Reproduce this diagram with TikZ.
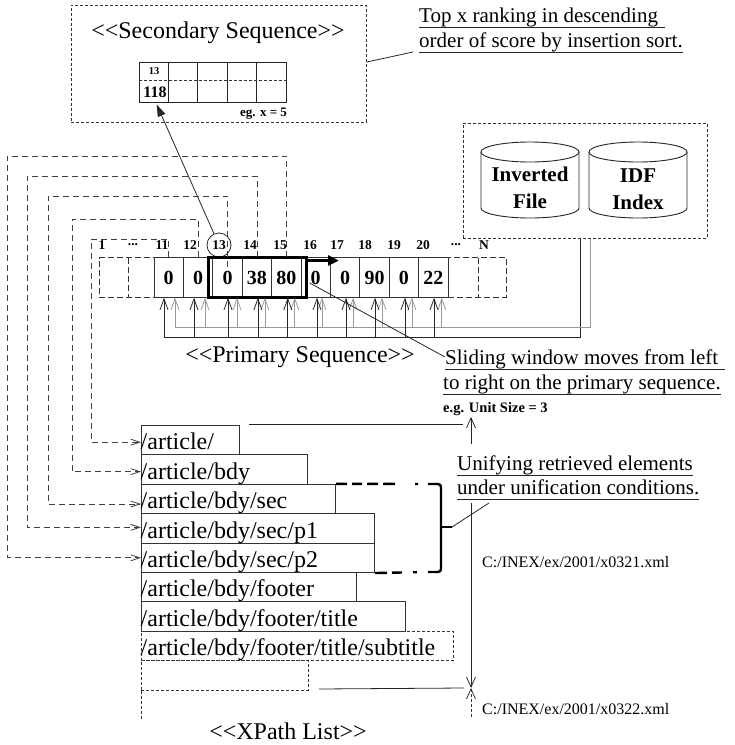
\documentclass[tikz,border=0pt]{standalone}
\usepackage{fontspec}
\setmainfont{Liberation Serif}
\newfontfamily\titlefont{Liberation Serif}
\usetikzlibrary{arrows.meta,calc}
\newcommand\fsz[2]{\fontsize{#1}{#2}\selectfont}
\begin{document}
\begin{tikzpicture}[x=1pt,y=-1pt,
  ink/.style={draw=black!85, line width=0.9pt},
  finedash/.style={draw=black!80, line width=0.9pt, dash pattern=on 3pt off 2pt},
  seqdash/.style={draw=black!80, line width=0.9pt, dash pattern=on 6pt off 3pt},
  cellbox/.style={draw=black!80, line width=0.9pt, minimum width=29.4pt, minimum height=39.5pt, inner sep=0pt, font=\bfseries\fsz{20}{24}},
  topcell/.style={draw=black!85, line width=1pt, minimum width=29.4pt, minimum height=40pt, inner sep=0pt},
  idx/.style={font=\bfseries\fsz{13.5}{15}, inner sep=0pt},
  ptitle/.style={font=\titlefont\fsz{24}{28}, inner sep=0pt},
  note/.style={font=\fsz{21}{24}, inner sep=0pt, anchor=base west},
  small/.style={font=\bfseries\fsz{14.5}{16}, inner sep=0pt, anchor=base west},
  pathtxt/.style={font=\fsz{16}{18}, inner sep=0pt, anchor=base west},
  xbox/.style={draw=black!80, line width=1pt, minimum height=29.4pt, inner sep=0pt, anchor=north west},
  xtxt/.style={font=\fsz{24}{28}, inner sep=0pt, anchor=base west},
  uline/.style={draw=black!85, line width=1pt},
  link/.style={draw=black!75, line width=0.8pt, dash pattern=on 6pt off 4pt, -{Straight Barb[length=9pt,width=6pt]}},
  feedd/.style={draw=black!85, line width=0.8pt, -{Straight Barb[length=11pt,width=8pt]}},
  feedg/.style={draw=black!40, line width=0.8pt, -{Straight Barb[length=11pt,width=8pt]}},
  busd/.style={draw=black!85, line width=0.9pt},
  busg/.style={draw=black!40, line width=0.9pt},
  brace/.style={draw=black, line width=2.4pt},
  db/.style={font=\bfseries\fsz{21}{27}, align=center, inner sep=0pt}
]
\useasboundingbox (0,0) rectangle (735,745);

% ---------------- secondary sequence ----------------
\node[finedash, minimum width=295pt, minimum height=117pt, anchor=north west] (secbox) at (71,5) {};
\node[ptitle] (sectitle) at (218,33) {<<Secondary Sequence>>};
\foreach \k in {1,...,5}
  \node[topcell] (s\k) at ({139+14.7+29.4*(\k-1)},82) {};
\draw[finedash] ($(s1.west)+(0,-2)$) -- ($(s5.east)+(0,-2)$);
\node[idx, font=\bfseries\fsz{10.5}{12}] (s1top) at (154,71) {13};
\node[idx, font=\bfseries\fsz{16}{18}] (s1val) at (155,92) {118};
\node[small, font=\bfseries\fsz{13}{15}] (egx) at (240,116) {eg. x = 5};

% ranking note
\node[note] (n1) at (419,22) {Top x ranking in descending};
\node[note] (n2) at (419,47) {order of score by insertion sort.};
\draw[uline] ($(n1.base west)+(0,5.5)$) -- ($(n1.base east)+(7,5.5)$);
\draw[uline] ($(n2.base west)+(0,5.5)$) -- ($(n2.base east)+(0,5.5)$);
\draw[ink, line width=0.8pt] ($(secbox.north east)+(0,57)$) -- ($(n2.base west)+(-6,5)$);

% ---------------- index files ----------------
\node[finedash, minimum width=244pt, minimum height=115pt, anchor=north west] (dbbox) at (463,123) {};
\draw[ink] (481,152) -- (481,208) arc[start angle=180,end angle=360,x radius=49pt,y radius=10pt] -- (579,152);
\draw[ink] (530,152) ellipse [x radius=49pt, y radius=10pt];
\draw[ink] (589,152) -- (589,208) arc[start angle=180,end angle=360,x radius=49pt,y radius=10pt] -- (687,152);
\draw[ink] (638,152) ellipse [x radius=49pt, y radius=10pt];
\node[db] (inv) at (530,188) {Inverted\\File};
\node[db] (idf) at (638,189) {IDF\\Index};

% ---------------- primary sequence ----------------
\node[seqdash, minimum width=55pt, minimum height=39.5pt, inner sep=0pt, anchor=west] (lft) at (99,277.5) {};
\draw[seqdash] (128,258) -- (128,297);
\node[seqdash, minimum width=58pt, minimum height=39.5pt, inner sep=0pt, anchor=west] (rgt) at (448,277.5) {};
\draw[seqdash] (478,258) -- (478,297);
\foreach \i/\v in {11/0,12/0,13/0,14/38,15/80,16/0,17/0,18/90,19/0,20/22}
  \node[cellbox] (c\i) at ({154+29.4*(\i-11)+14.7},277.5) {\v};

\node[idx] (l1) at (102,245) {1};
\node[idx] (ld1) at (133,245) {...};
\foreach \i/\x in {11/162,12/190,14/250,15/280,16/310,17/337,18/365,19/394,20/423}
  \node[idx] (l\i) at (\x,245) {\i};
\node[idx, draw=black!85, line width=0.8pt, circle, inner sep=0pt, minimum size=24pt] (l13) at (219,245) {13};
\node[idx] (ld2) at (456,245) {...};
\node[idx] (lN) at (484,245) {N};

% sliding window
\node[draw=black, line width=3pt, minimum width=98pt, minimum height=40pt, inner sep=0pt] (win) at (257.5,277.5) {};
\draw[line width=3pt, -{Triangle[length=11pt,width=10pt]}] ($(win.north east)+(0,4.5)$) -- ($(win.north east)+(31,4.5)$);

% best element goes to the secondary sequence
\draw[ink, line width=0.8pt, -{Triangle[length=12pt,width=8pt]}] (l13) -- ($(s1.south)+(3,2)$);

% nested links from the XPath list into the cells
\coordinate (k1) at (91,239);
\coordinate (k2) at (72,219);
\coordinate (k3) at (48,196);
\coordinate (k4) at (27,176);
\coordinate (k5) at (7,156);

% ---------------- XPath list ----------------
\node[xbox, minimum width=98pt] (xp1) at (141,425) {};
\node[xbox, minimum width=166pt] (xp2) at (141,454.4) {};
\node[xbox, minimum width=194pt] (xp3) at (141,483.8) {};
\node[xbox, minimum width=233pt] (xp4) at (141,513.2) {};
\node[xbox, minimum width=233pt] (xp5) at (141,542.6) {};
\node[xbox, minimum width=215pt] (xp6) at (141,572) {};
\node[xbox, minimum width=264pt] (xp7) at (141,601.4) {};
\node[xbox, finedash, minimum width=312pt] (xp8) at (141,630.8) {};
\node[xbox, finedash, minimum width=167pt] (xp9) at (141,660.2) {};
\draw[finedash] (xp9.south west) -- ++(0,28);

\node[xtxt] (t1) at ($(xp1.south west)+(-0.5,-5.5)$) {/article/};
\node[xtxt] (t2) at ($(xp2.south west)+(-0.5,-5.5)$) {/article/bdy};
\node[xtxt] (t3) at ($(xp3.south west)+(-0.5,-5.5)$) {/article/bdy/sec};
\node[xtxt] (t4) at ($(xp4.south west)+(-0.5,-5.5)$) {/article/bdy/sec/p1};
\node[xtxt] (t5) at ($(xp5.south west)+(-0.5,-5.5)$) {/article/bdy/sec/p2};
\node[xtxt] (t6) at ($(xp6.south west)+(-0.5,-5.5)$) {/article/bdy/footer};
\node[xtxt] (t7) at ($(xp7.south west)+(-0.5,-5.5)$) {/article/bdy/footer/title};
\node[xtxt] (t8) at ($(xp8.south west)+(-0.5,-5.5)$) {/article/bdy/footer/title/subtitle};

\draw[link] (c11.north) |- (k1) |- ($(xp1.west)+(0,2)$);
\draw[link] (c12.north) |- (k2) |- ($(xp2.west)+(0,2)$);
\draw[link] ($(c13.north)+(0,10)$) |- (k3) |- ($(xp3.west)+(0,5)$);
\draw[link] (c14.north) |- (k4) |- ($(xp4.west)+(0,-1)$);
\draw[link] (c15.north) |- (k5) |- (xp5.west);

% score feeds from the index files
\draw[busd] ($(dbbox.south west)+(117,0)$) |- ($(c11.south)+(-4.7,40)$);
\draw[busg] ($(dbbox.south west)+(127,0)$) |- ($(c11.south)+(6.3,30)$);
\foreach \i/\d/\g in {11/-4.7/6.3,12/-4.1/6.9,13/0.5/9.5,14/1/8,15/1.5/8.5,16/1.3/6.3,17/0.9/8,18/0.5/7.5,19/1/8,20/0.7/8.5}{
  \draw[feedg] ($(c\i.south)+(\g,30)$) -- ($(c\i.south)+(\g,0)$);
  \draw[feedd] ($(c\i.south)+(\d,40)$) -- ($(c\i.south)+(\d,0)$);
}

\node[ptitle] (primtitle) at (300,357) {<<Primary Sequence>>};

% sliding note
\node[note] (n3) at (445,364) {Sliding window moves from left};
\node[note] (n4) at (443,389) {to right on the primary sequence.};
\draw[uline] ($(n3.base west)+(0,5.5)$) -- ($(n3.base east)+(7,5.5)$);
\draw[uline] ($(n4.base west)+(0,5.5)$) -- ($(n4.base east)+(0,5.5)$);
\draw[ink, line width=0.8pt] ($(c16.center)+(-6,5.5)$) -- ($(n3.base west)+(0,-7)$);
\node[small] (unit) at (443,412) {e.g. Unit Size = 3};

% unification bracket
\coordinate (brtop) at (428,484);
\coordinate (brbot) at (428,572);
\coordinate (nub) at (452,527);
\draw[brace, dash pattern=on 11pt off 5pt on 10pt off 5pt on 11pt off 5pt on 12pt off 20pt on 3pt off 10pt] (xp3.north east) -- (brtop);
\draw[brace, dash pattern=on 12pt off 5pt on 10pt off 11pt on 4pt off 20pt] (xp5.south east) -- (brbot);
\draw[brace, rounded corners=3pt] (brtop) -- (441,484) -- (441,572) -- (brbot);
\draw[brace] (441,527) -- (nub);

% document range
\coordinate (uarr) at (471,417);
\coordinate (xmark) at (471,688);
\coordinate (xtail) at (471,717);
\draw[ink, line width=0.8pt, {Straight Barb[length=10pt,width=9pt]}-{Straight Barb[length=10pt,width=9pt]}] (uarr) -- (xmark);
\draw[finedash, line width=0.8pt, -{Straight Barb[length=10pt,width=9pt]}] (xtail) -- (xmark);
\draw[ink, line width=0.8pt] ($(xp1.north east)+(9,-1)$) -- ($(uarr)+(-8,7)$);
\draw[ink, line width=0.8pt] ($(xp9.south east)+(10,-1.5)$) -- ($(xmark)+(-7,0)$);

\fill[white] (455,444) rectangle (700,503);
\node[note] (n5) at (457,470) {Unifying retrieved elements};
\node[note] (n6) at (457,494) {under unification conditions.};
\draw[uline] ($(n5.base west)+(0,5)$) -- ($(n5.base east)+(0,5)$);
\draw[uline] ($(n6.base west)+(0,5)$) -- ($(n6.base east)+(0,5)$);
\draw[ink, line width=0.8pt] (nub) -- ($(n6.base west)+(32,9)$);

\node[pathtxt] (f1) at (482,567) {C:/INEX/ex/2001/x0321.xml};
\node[pathtxt] (f2) at (482,714) {C:/INEX/ex/2001/x0322.xml};
\node[ptitle] (xptitle) at (288,731) {<<XPath List>>};
\end{tikzpicture}
\end{document}
